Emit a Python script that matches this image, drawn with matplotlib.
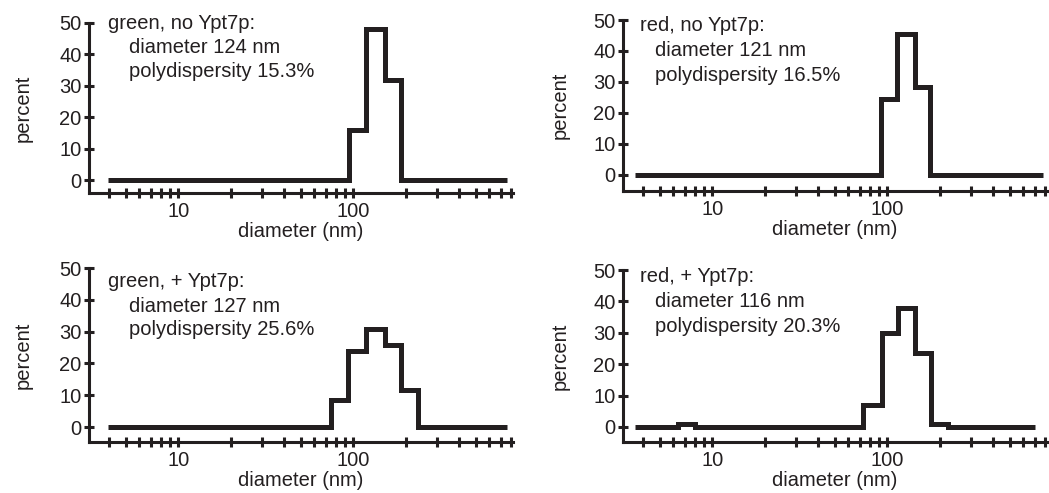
import matplotlib
matplotlib.use("Agg")
import matplotlib.pyplot as plt
from matplotlib.ticker import LogLocator, FixedLocator, NullFormatter, FixedFormatter

plt.rcParams['font.family'] = ['Liberation Sans', 'DejaVu Sans']
INK = '#231f20'

# step positions (nm) and heights (percent)
tl_edges = [3.95, 94, 119, 152, 188, 755]
tl_vals = [0, 16, 48, 32, 0]

tr_edges = [3.6, 92, 113, 144, 175, 773]
tr_vals = [0, 24.5, 45.5, 28.5, 0]

bl_edges = [3.95, 75, 93, 119, 152, 187, 235, 755]
bl_vals = [0, 8.5, 23.8, 30.8, 25.7, 11.5, 0]

br_edges = [3.6, 6.4, 8.0, 72.6, 93, 115, 144, 177, 222, 700]
br_vals = [0, 1, 0, 6.9, 30, 38, 23.5, 1, 0]

titles = ["green, no Ypt7p:", "red, no Ypt7p:", "green, + Ypt7p:", "red, + Ypt7p:"]
diams = ["diameter 124 nm", "diameter 121 nm", "diameter 127 nm", "diameter 116 nm"]
polys = ["polydispersity 15.3%", "polydispersity 16.5%",
         "polydispersity 25.6%", "polydispersity 20.3%"]

y_ticks = [0, 10, 20, 30, 40, 50]
x_major = [10, 100]

W, H = 1049, 493
fig = plt.figure(figsize=(W / 100, H / 100), dpi=100)

# layout in pixels: left, top, right, bottom, ymin, text offsets, ylabel offset
boxes = [
    (89, 23, 513, 193, -4.1, (19, -6), (40, -30), (40, -54), -66),
    (623, 20, 1047, 191, -5.2, (17, -11), (32, -36), (32, -61), -63),
    (89, 268, 513, 442, -4.7, (19, -19), (40, -44), (40, -67), -66),
    (623, 270, 1047, 442, -4.8, (17, -12), (32, -37), (32, -62), -63),
]
data = [(tl_edges, tl_vals), (tr_edges, tr_vals), (bl_edges, bl_vals), (br_edges, br_vals)]

for i, (box, (edges, vals)) in enumerate(zip(boxes, data)):
    l, t, r, b, ymin, o1, o2, o3, ylab = box
    ax = fig.add_axes([l / W, 1 - b / H, (r - l) / W, (b - t) / H])
    ax.stairs(vals, edges, baseline=None, color=INK, lw=3.6, joinstyle='miter')

    ax.set_xscale('log')
    ax.set_xlim(3.09, 818)
    ax.set_ylim(ymin, 50)
    ax.xaxis.set_major_locator(FixedLocator(x_major))
    ax.xaxis.set_major_formatter(FixedFormatter([str(v) for v in x_major]))
    ax.xaxis.set_minor_locator(LogLocator(base=10, subs=[2, 3, 4, 5, 6, 7, 8, 9], numticks=20))
    ax.xaxis.set_minor_formatter(NullFormatter())
    ax.set_yticks(y_ticks)

    for s in ['top', 'right']:
        ax.spines[s].set_visible(False)
    for s in ['left', 'bottom']:
        ax.spines[s].set_linewidth(2.2)
        ax.spines[s].set_color(INK)

    ax.tick_params(which='both', direction='inout', length=6.5, width=2.2,
                   color=INK, labelsize=14.5, labelcolor=INK)
    ax.tick_params(axis='y', pad=2)
    ax.tick_params(axis='x', pad=3)

    ax.set_xlabel('diameter (nm)', fontsize=14.5, color=INK, labelpad=1)
    ax.set_ylabel('percent', fontsize=14.5, color=INK, va='center', ha='center')
    ax.yaxis.set_label_coords(ylab / (r - l), 0.5)

    for txt, off in zip([titles[i], diams[i], polys[i]], [o1, o2, o3]):
        ax.annotate(txt, xy=(0, 1), xycoords='axes fraction', xytext=off,
                    textcoords='offset pixels', ha='left', va='baseline',
                    fontsize=14.5, color=INK)

fig.savefig('out.png', dpi=100)
